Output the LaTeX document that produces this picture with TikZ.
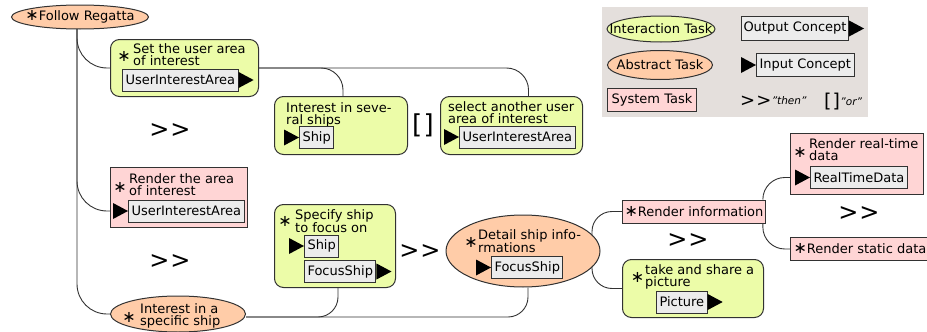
\documentclass[tikz,border=0pt]{standalone}
\usepackage{fontspec}
\setmainfont{DejaVu Sans}
\usetikzlibrary{shapes.geometric, positioning}

\definecolor{itask}{RGB}{236,252,168}
\definecolor{atask}{RGB}{255,204,168}
\definecolor{stask}{RGB}{255,213,213}
\definecolor{cfill}{RGB}{236,236,236}
\definecolor{legendbg}{RGB}{228,223,220}
\definecolor{rim}{RGB}{50,50,50}

% the task marker and the concept arrows
\newcommand{\tstar}{{\fontsize{16}{12}\selectfont ∗}}
\newcommand{\outtri}[1]{\fill ([yshift=8pt]#1.east) -- ([xshift=15pt]#1.east) -- ([yshift=-8pt]#1.east) -- cycle;}
\newcommand{\intri}[1]{\fill (#1.west) -- ([shift={(-15pt,8pt)}]#1.west) -- ([shift={(-15pt,-8pt)}]#1.west) -- cycle;}

\tikzset{
  interaction/.style={draw=rim, line width=1pt, fill=itask, rounded corners=9pt, anchor=north west}, % user task
  abstract/.style={ellipse, draw=rim, line width=1pt, fill=atask, inner sep=0pt}, % abstract task
  system/.style={draw=rim, line width=1pt, fill=stask, anchor=north west}, % system task
  concept/.style={draw=rim, line width=1pt, fill=cfill, inner xsep=3pt, inner ysep=0pt, minimum height=22pt, anchor=west},
  tasktext/.style={anchor=north west, align=left, inner sep=0pt},
  starmark/.style={inner sep=0pt},
  seq/.style={font=\fontsize{24}{24}\selectfont, inner sep=0pt}, % >> and [] operators
  link/.style={draw=rim, line width=0.9pt, rounded corners=22pt},
}

\begin{document}
\begin{tikzpicture}[x=1pt, y=-1pt, font=\fontsize{13}{12.2}\selectfont]
\useasboundingbox (0,0) rectangle (927,332);

% legend
\fill[legendbg] (602,7) rectangle (868,117);
\node[abstract, fill=itask, minimum width=108pt, minimum height=26pt] (leginter) at (661,29) {};
\node[inner sep=0pt] at (leginter.center) {Interaction Task};
\node[abstract, minimum width=105pt, minimum height=29pt] (legabs) at (660,65) {};
\node[inner sep=0pt] at (legabs.center) {Abstract Task};
\node[system, anchor=west, minimum width=89pt, minimum height=23pt, inner xsep=2pt] (legsys) at (607,100) {System Task};
\node[concept, minimum height=24pt, inner xsep=2pt] (legout) at (741,28.5) {Output Concept}; \outtri{legout}
\node[concept, minimum height=23pt] (legin) at (756,65) {Input Concept}; \intri{legin}
\node[seq, font=\fontsize{18}{18}\selectfont, anchor=west] (legthen) at (740,101) {>\kern1pt>};
\node[anchor=west, inner sep=0pt, font=\fontsize{10.5}{10}\selectfont\itshape] at (legthen.east) {"then"};
\node[seq, font=\fontsize{19}{19}\selectfont, anchor=west] (legor) at (824,102) {[\kern1pt]};
\node[anchor=west, inner sep=0pt, font=\fontsize{10.5}{10}\selectfont\itshape] at (legor.east) {"or"};

% root task
\node[abstract, minimum width=137pt, minimum height=24pt] (regatta) at (80,17) {};
\node[inner sep=0pt] at (regatta.center) {\tstar Follow Regatta};

% user area and the two choices
\node[interaction, minimum width=148pt, minimum height=57pt] (setarea) at (110,39) {};
\node[starmark] at (124,56) {\tstar};
\node[tasktext] at (133,43) {Set the user area\\of interest};
\node[concept] (uia1) at (122,80) {UserInterestArea}; \outtri{uia1}

\node[interaction, minimum width=133pt, minimum height=58pt] (several) at (274,96) {};
\node[tasktext] at (286,102) {Interest in seve-\\ral ships};
\node[concept] (ship1) at (299,137.5) {Ship}; \intri{ship1}
\node[seq, font=\fontsize{26}{26}\selectfont] (orop) at (423,125) {[\kern1.5pt]};
\node[interaction, minimum width=142pt, minimum height=58pt] (another) at (440,96) {};
\node[tasktext] at (448,101) {select another user\\area of interest};
\node[concept] (uia2) at (459,137) {UserInterestArea}; \intri{uia2}

\node[seq] at (170,131) {>\kern1pt>};

% rendering of the area
\node[system, minimum width=137pt, minimum height=60pt] (rarea) at (110,167) {};
\node[starmark] at (120,187) {\tstar};
\node[tasktext] at (129,173) {Render the area\\of interest};
\node[concept] (uia3) at (128,211) {UserInterestArea}; \intri{uia3}

\node[seq] at (170,262) {>\kern1pt>};

% one ship
\node[abstract, minimum width=135pt, minimum height=36pt] (specific) at (178,314) {};
\node[starmark] at (129,317) {\tstar};
\node[tasktext] at (140,303) {Interest in a\\specific ship};

\node[interaction, minimum width=121pt, minimum height=83pt] (specify) at (274,204) {};
\node[starmark] at (285,221) {\tstar};
\node[tasktext] at (295,209) {Specify ship\\to focus on};
\node[concept] (ship2) at (304,246) {Ship}; \intri{ship2}
\node[concept] (focus1) at (304,271.5) {FocusShip}; \outtri{focus1}

\node[seq] at (420,252) {>\kern1pt>};

\node[abstract, minimum width=154pt, minimum height=72pt] (detail) at (523,251) {};
\node[starmark] at (471,242) {\tstar};
\node[tasktext] at (478,229) {Detail ship info-\\rmations};
\node[concept] (focus2) at (491,267.5) {FocusShip}; \intri{focus2}

% details of the ship
\node[system, anchor=west, minimum height=23pt, inner xsep=2pt] (rinfo) at (622,211.5) {\tstar Render information};
\node[seq] at (688,241) {>\kern1pt>};
\node[interaction, minimum width=141pt, minimum height=58pt] (share) at (622,259) {};
\node[starmark] at (637.5,277.5) {\tstar};
\node[tasktext] at (645,264) {take and share a\\picture};
\node[concept] (pic) at (656,302) {Picture}; \outtri{pic}

\node[system, minimum width=133pt, minimum height=61pt] (realtime) at (790,133) {};
\node[starmark] at (800,152) {\tstar};
\node[tasktext] at (809,138) {Render real-time\\data};
\node[concept] (rtd) at (810,177.5) {RealTimeData}; \intri{rtd}
\node[seq] at (859,214) {>\kern1pt>};
\node[system, anchor=west, minimum height=23pt, inner xsep=3pt] (rstatic) at (790,249) {\tstar Render static data};

% connectors
\coordinate (spine) at (77,29);
\draw[link, rounded corners=30pt] (spine) |- (setarea.west);
\draw[link, rounded corners=30pt] (spine) |- (rarea.west |- uia3);
\draw[link, rounded corners=30pt] (spine) |- (specific.west);

\draw[link] (setarea.east) -| ([xshift=2pt]several.north);
\draw[link] (setarea.east) -| ([xshift=17pt]another.north);

\draw[link, rounded corners=20pt] ([yshift=-3pt]specific.east) -| ([xshift=3pt]specify.south);
\draw[link, rounded corners=20pt] ([yshift=-3pt]specific.east) -| ([xshift=5pt]detail.south);

\coordinate (dup) at (592,235);
\coordinate (ddown) at (592,267);
\draw[link, rounded corners=20pt] (dup) |- (rinfo.west);
\draw[link, rounded corners=20pt] (ddown) |- (share.west);

\draw[link] ([xshift=-3pt]rinfo.north east) |- (realtime.west |- rtd);
\draw[link] ([xshift=-3pt]rinfo.south east) |- (rstatic.west);
\end{tikzpicture}
\end{document}
